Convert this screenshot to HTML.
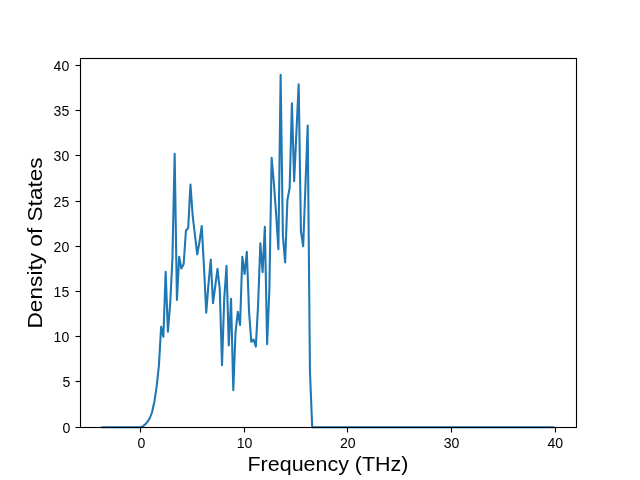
<!DOCTYPE html>
<html><head><meta charset="utf-8"><style>
html,body{margin:0;padding:0;background:#fff;}
svg{display:block;will-change:transform;}
text{font-family:"Liberation Sans",sans-serif;fill:#000;}
</style></head><body>
<svg width="640" height="480" viewBox="0 0 640 480">
<rect x="0" y="0" width="640" height="480" fill="#fff"/>
<polyline points="102.52,427.20 104.77,427.20 107.03,427.20 109.28,427.20 111.54,427.20 113.79,427.20 116.05,427.20 118.30,427.20 120.56,427.20 122.81,427.20 125.07,427.20 127.32,427.20 129.58,427.20 131.83,427.20 134.08,427.20 136.34,427.20 138.59,427.20 140.85,427.00 143.10,426.10 145.36,424.20 147.61,421.60 149.87,418.00 152.12,412.00 154.38,401.70 156.63,386.70 158.88,366.00 161.14,326.80 163.39,336.70 165.65,271.80 167.90,331.70 170.16,304.00 172.41,259.00 174.67,153.90 176.92,300.00 179.18,256.90 181.43,268.50 183.69,264.00 185.94,230.50 188.19,228.00 190.45,184.50 192.70,216.00 194.96,235.00 197.21,254.50 199.47,242.00 201.72,226.10 203.98,267.00 206.23,312.70 208.49,284.00 210.74,259.50 213.00,303.20 215.25,286.00 217.50,268.80 219.76,289.00 222.01,365.30 224.27,298.00 226.52,265.90 228.78,345.50 231.03,298.90 233.29,390.30 235.54,332.00 237.80,311.80 240.05,324.90 242.31,256.70 244.56,274.00 246.81,251.90 249.07,312.00 251.32,341.90 253.58,339.50 255.83,346.60 258.09,305.00 260.34,243.30 262.60,272.20 264.85,226.70 267.11,344.20 269.36,290.00 271.62,157.70 273.87,183.00 276.12,214.00 278.38,249.30 280.63,74.70 282.89,236.00 285.14,262.40 287.40,200.00 289.65,188.00 291.91,103.30 294.16,181.10 296.42,132.00 298.67,84.30 300.92,231.00 303.18,246.30 305.43,186.00 307.69,125.50 309.94,371.00 312.20,427.20 314.45,427.20 316.71,427.20 318.96,427.20 321.22,427.20 323.47,427.20 325.73,427.20 327.98,427.20 330.23,427.20 332.49,427.20 334.74,427.20 337.00,427.20 339.25,427.20 341.51,427.20 343.76,427.20 346.02,427.20 348.27,427.20 350.53,427.20 352.78,427.20 355.04,427.20 357.29,427.20 359.54,427.20 361.80,427.20 364.05,427.20 366.31,427.20 368.56,427.20 370.82,427.20 373.07,427.20 375.33,427.20 377.58,427.20 379.84,427.20 382.09,427.20 384.34,427.20 386.60,427.20 388.85,427.20 391.11,427.20 393.36,427.20 395.62,427.20 397.87,427.20 400.13,427.20 402.38,427.20 404.64,427.20 406.89,427.20 409.15,427.20 411.40,427.20 413.65,427.20 415.91,427.20 418.16,427.20 420.42,427.20 422.67,427.20 424.93,427.20 427.18,427.20 429.44,427.20 431.69,427.20 433.95,427.20 436.20,427.20 438.46,427.20 440.71,427.20 442.96,427.20 445.22,427.20 447.47,427.20 449.73,427.20 451.98,427.20 454.24,427.20 456.49,427.20 458.75,427.20 461.00,427.20 463.26,427.20 465.51,427.20 467.77,427.20 470.02,427.20 472.27,427.20 474.53,427.20 476.78,427.20 479.04,427.20 481.29,427.20 483.55,427.20 485.80,427.20 488.06,427.20 490.31,427.20 492.57,427.20 494.82,427.20 497.07,427.20 499.33,427.20 501.58,427.20 503.84,427.20 506.09,427.20 508.35,427.20 510.60,427.20 512.86,427.20 515.11,427.20 517.37,427.20 519.62,427.20 521.88,427.20 524.13,427.20 526.38,427.20 528.64,427.20 530.89,427.20 533.15,427.20 535.40,427.20 537.66,427.20 539.91,427.20 542.17,427.20 544.42,427.20 546.68,427.20 548.93,427.20 551.19,427.20 553.44,427.20" fill="none" stroke="#1f77b4" stroke-width="2.083" stroke-linejoin="round" stroke-linecap="square"/>
<g stroke="#000" stroke-width="1.111"><line x1="140.5" y1="427.2" x2="140.5" y2="432.5"/><line x1="244.5" y1="427.2" x2="244.5" y2="432.5"/><line x1="347.5" y1="427.2" x2="347.5" y2="432.5"/><line x1="451.5" y1="427.2" x2="451.5" y2="432.5"/><line x1="555.5" y1="427.2" x2="555.5" y2="432.5"/><line x1="75.5" y1="427.5" x2="80" y2="427.5"/><line x1="75.5" y1="381.5" x2="80" y2="381.5"/><line x1="75.5" y1="336.5" x2="80" y2="336.5"/><line x1="75.5" y1="291.5" x2="80" y2="291.5"/><line x1="75.5" y1="246.5" x2="80" y2="246.5"/><line x1="75.5" y1="201.5" x2="80" y2="201.5"/><line x1="75.5" y1="155.5" x2="80" y2="155.5"/><line x1="75.5" y1="110.5" x2="80" y2="110.5"/><line x1="75.5" y1="65.5" x2="80" y2="65.5"/></g>
<rect x="80.5" y="58.5" width="496" height="369" fill="none" stroke="#000" stroke-width="1.111"/>
<g font-size="14.1"><text x="141.40" y="447.9" text-anchor="middle">0</text><text x="244.47" y="447.9" text-anchor="middle">10</text><text x="347.84" y="447.9" text-anchor="middle">20</text><text x="451.61" y="447.9" text-anchor="middle">30</text><text x="555.38" y="447.9" text-anchor="middle">40</text><text x="70.3" y="432.65" text-anchor="end">0</text><text x="70.3" y="387.44" text-anchor="end">5</text><text x="69.3" y="342.22" text-anchor="end">10</text><text x="69.3" y="297.00" text-anchor="end">15</text><text x="69.3" y="251.79" text-anchor="end">20</text><text x="69.3" y="206.58" text-anchor="end">25</text><text x="69.3" y="161.36" text-anchor="end">30</text><text x="69.3" y="116.14" text-anchor="end">35</text><text x="69.3" y="70.93" text-anchor="end">40</text></g>
<text x="328" y="471.1" text-anchor="middle" font-size="19.44" textLength="161" lengthAdjust="spacingAndGlyphs">Frequency (THz)</text>
<text transform="translate(42.2,242.9) rotate(-90)" x="0" y="0" text-anchor="middle" font-size="19.44" textLength="171.2" lengthAdjust="spacingAndGlyphs">Density of States</text>
</svg>
</body></html>
